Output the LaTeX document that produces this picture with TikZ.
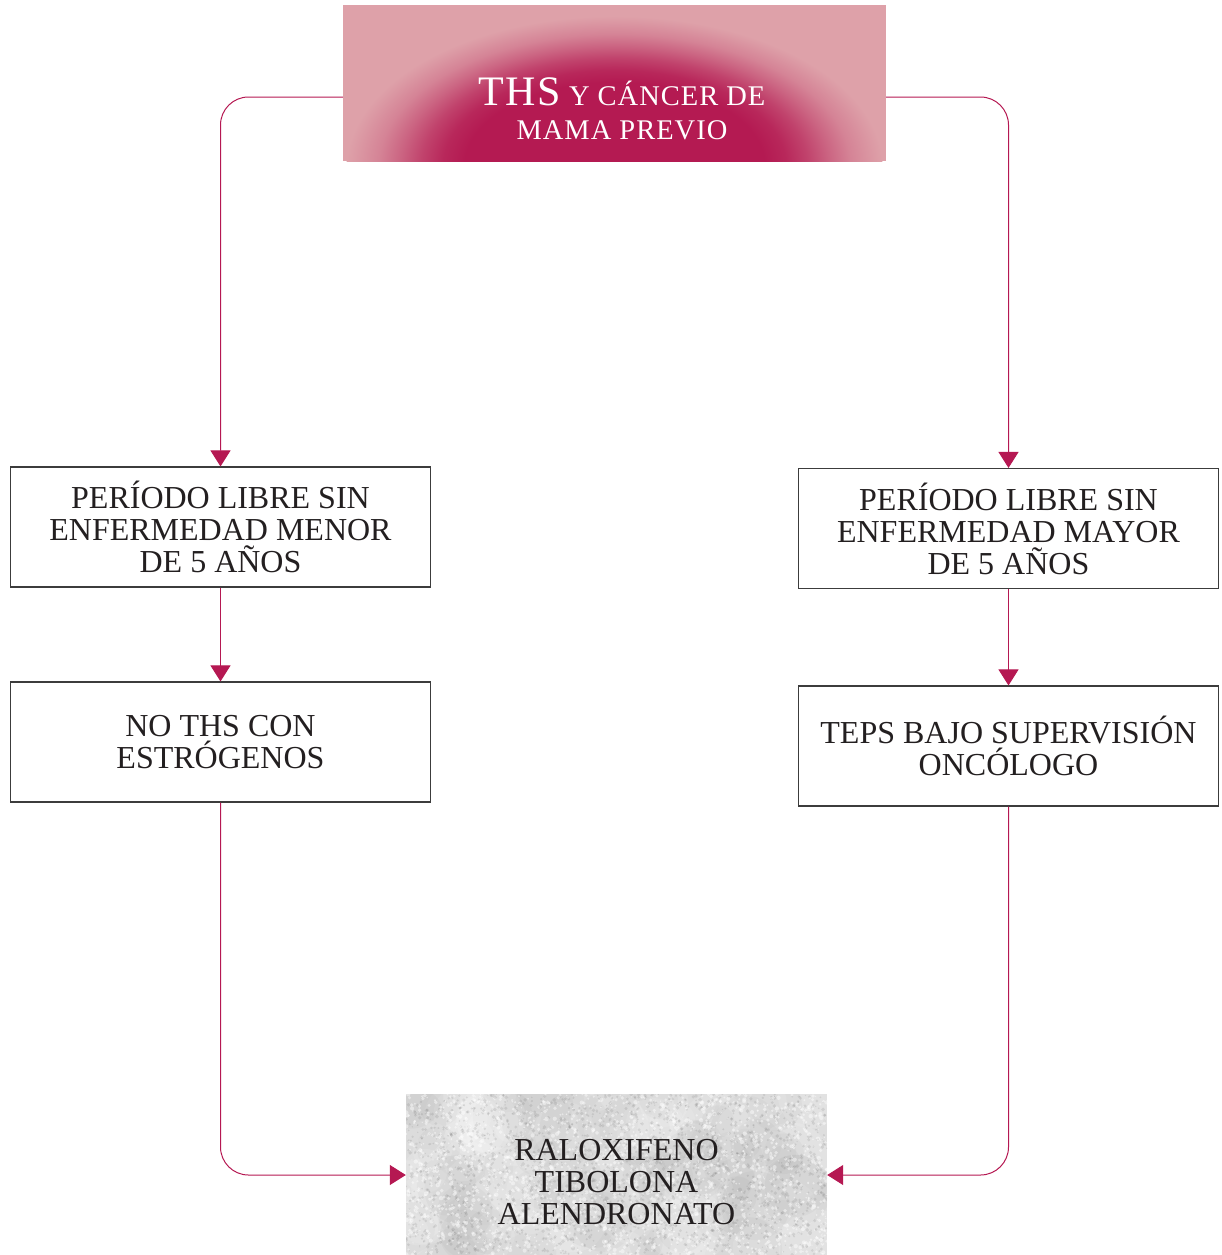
\documentclass[tikz,border=0pt]{standalone}
\usepackage{fontspec}
\setmainfont{Liberation Serif}
\usetikzlibrary{arrows.meta}

\definecolor{flow}{RGB}{181,24,82}
\definecolor{glowdark}{RGB}{180,26,82}
\definecolor{glowlight}{RGB}{222,161,169}
\colorlet{glowA}{glowdark!90!glowlight}
\colorlet{glowB}{glowdark!70!glowlight}
\colorlet{glowC}{glowdark!45!glowlight}
\colorlet{glowD}{glowdark!22!glowlight}
\colorlet{glowE}{glowdark!7!glowlight}
\definecolor{ink}{RGB}{35,31,32}
\definecolor{frame}{RGB}{60,60,60}
\definecolor{stone}{RGB}{222,222,222}

% soft magenta glow rising from the bottom edge of the title panel
\pgfdeclareradialshading{topglow}{\pgfpoint{0bp}{0bp}}{%
  color(0bp)=(glowdark); color(14bp)=(glowdark); color(16bp)=(glowA);
  color(18bp)=(glowB); color(20bp)=(glowC); color(22bp)=(glowD);
  color(24bp)=(glowE); color(25bp)=(glowlight); color(50bp)=(glowlight)}

\begin{document}
\begin{tikzpicture}[x=1pt,y=-1pt,
  txt/.style={font=\fontsize{32}{32}\selectfont, text=ink, align=center},
  stepbox/.style={txt, draw=frame, line width=1.1pt, minimum width=420pt,
    minimum height=120pt, inner sep=0pt},
  link/.style={draw=flow, line width=1pt, rounded corners=28pt,
    -{Triangle[width=20pt,length=16pt]}},
  titlebox/.style={minimum width=543pt, minimum height=156pt, inner sep=0pt},
  stonebox/.style={txt, minimum width=421pt, minimum height=177pt, inner sep=0pt},
]
\clip (0,0) rectangle (1221,1255);

% backdrop of the title panel
\begin{scope}
  \clip (343,5) rectangle (886,161);
  \fill[glowlight] (343,5) rectangle (886,161);
  \shade[shading=topglow] (614.5,166) ellipse (268pt and 150pt);
\end{scope}

% mottled stone backdrop of the final panel
\begin{scope}
  \clip (406,1094) rectangle (827,1255);
  \fill[stone] (406,1094) rectangle (827,1255);
  \pgfmathsetseed{11}
  \foreach \k in {1,...,60}{
    \pgfmathsetmacro{\px}{406+421*rnd}
    \pgfmathsetmacro{\py}{1094+161*rnd}
    \pgfmathsetmacro{\pr}{14+26*rnd}
    \fill[white, opacity=0.12] (\px,\py) circle (\pr pt);
    \pgfmathsetmacro{\qx}{406+421*rnd}
    \pgfmathsetmacro{\qy}{1094+161*rnd}
    \fill[black, opacity=0.025] (\qx,\qy) circle (\pr pt);
  }
  \foreach \k in {1,...,2200}{
    \pgfmathsetmacro{\px}{406+421*rnd}
    \pgfmathsetmacro{\py}{1094+161*rnd}
    \pgfmathsetmacro{\pr}{0.6+1.6*rnd}
    \fill[white, opacity=0.45] (\px,\py) circle (\pr pt);
    \pgfmathsetmacro{\qx}{406+421*rnd}
    \pgfmathsetmacro{\qy}{1094+161*rnd}
    \pgfmathsetmacro{\qr}{0.6+1.4*rnd}
    \fill[black, opacity=0.08] (\qx,\qy) circle (\qr pt);
  }
\end{scope}

% title panel and its caption
\node[titlebox] (top) at (614.5,83) {};
\node[font=\fontsize{28.5}{34}\selectfont\addfontfeatures{LetterSpace=3.5},
  text=white, align=center] (title) at (622,109)
  {{\fontsize{42}{42}\selectfont THS} Y CÁNCER DE\\MAMA PREVIO};

% left branch
\node[stepbox] (l1) at (220.5,527) {PERÍODO LIBRE SIN\\ENFERMEDAD MENOR\\DE 5 AÑOS};
\node[stepbox] (l2) at (220.5,742) {NO THS CON\\ESTRÓGENOS};

% right branch
\node[stepbox] (r1) at (1008.5,528.5) {PERÍODO LIBRE SIN\\ENFERMEDAD MAYOR\\DE 5 AÑOS};
\node[stepbox] (r2) at (1008.5,746) {TEPS BAJO SUPERVISIÓN\\ONCÓLOGO};

% common alternatives
\node[stonebox] (alt) at (616.5,1182.5) {RALOXIFENO\\TIBOLONA\\ALENDRONATO};

% connectors
\draw[link] ([yshift=-14pt]top.west) -| (l1.north);
\draw[link] ([yshift=-14pt]top.east) -| (r1.north);
\draw[link] (l1.south) -- (l2.north);
\draw[link] (r1.south) -- (r2.north);
\draw[link] (l2.south) |- ([yshift=7.5pt]alt.west);
\draw[link] (r2.south) |- ([yshift=7.5pt]alt.east);
\end{tikzpicture}
\end{document}
